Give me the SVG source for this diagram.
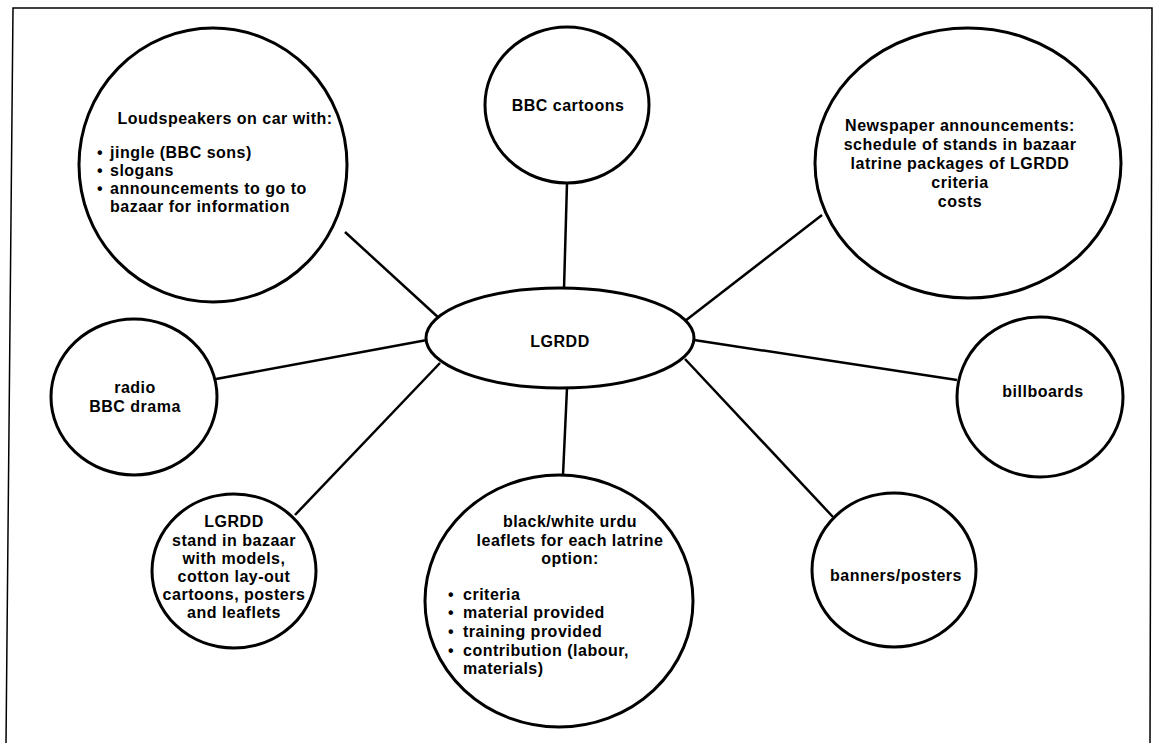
<svg xmlns="http://www.w3.org/2000/svg" width="1161" height="743" viewBox="0 0 1161 743">
<style>
  .node { fill: #fff; stroke: #000; stroke-width: 3; }
  .conn line { stroke: #000; stroke-width: 2.5; }
  text { font-family: "Liberation Sans", Arial, sans-serif; font-size: 16px; font-weight: bold; letter-spacing: 0.5px; fill: #000; }
  .c { text-anchor: middle; }
  .frame { fill: none; stroke: #000; stroke-width: 1.5; }
</style>
<rect width="1161" height="743" fill="#fff"/>
<path class="frame" d="M 6 743 L 13 8 L 1152 8 L 1150 743"/>
<g id="connectors" class="conn">
  <line x1="345" y1="232" x2="440" y2="319"/>
  <line x1="567" y1="183" x2="564" y2="289"/>
  <line x1="822" y1="215" x2="685" y2="321"/>
  <line x1="216" y1="379" x2="427" y2="340"/>
  <line x1="957" y1="380" x2="694" y2="340"/>
  <line x1="295" y1="515" x2="440" y2="363"/>
  <line x1="563" y1="475" x2="567" y2="388"/>
  <line x1="833" y1="517" x2="685" y2="359"/>
</g>
<g id="loudspeakers">
  <ellipse class="node" cx="213" cy="165" rx="134" ry="137"/>
  <text x="225" y="124" class="c">Loudspeakers on car with:</text>
  <text x="97" y="158">•</text><text x="110" y="158">jingle (BBC sons)</text>
  <text x="97" y="176">•</text><text x="110" y="176">slogans</text>
  <text x="97" y="194">•</text><text x="110" y="194">announcements to go to</text>
  <text x="110" y="212">bazaar for information</text>
</g>
<g id="bbc-cartoons">
  <ellipse class="node" cx="567" cy="105" rx="82" ry="78"/>
  <text x="568" y="111" class="c">BBC cartoons</text>
</g>
<g id="newspaper">
  <ellipse class="node" cx="968" cy="163" rx="153" ry="135"/>
  <text x="960" y="131" class="c">Newspaper announcements:</text>
  <text x="960" y="150" class="c">schedule of stands in bazaar</text>
  <text x="960" y="169" class="c">latrine packages of LGRDD</text>
  <text x="960" y="188" class="c">criteria</text>
  <text x="960" y="207" class="c">costs</text>
</g>
<g id="lgrdd">
  <ellipse class="node" cx="560" cy="338" rx="134" ry="50"/>
  <text x="560" y="347" class="c">LGRDD</text>
</g>
<g id="radio">
  <ellipse class="node" cx="134" cy="397" rx="83" ry="78"/>
  <text x="135" y="393" class="c">radio</text>
  <text x="135" y="412" class="c">BBC drama</text>
</g>
<g id="billboards">
  <ellipse class="node" cx="1040" cy="397" rx="83" ry="80"/>
  <text x="1043" y="397" class="c">billboards</text>
</g>
<g id="stand">
  <ellipse class="node" cx="234" cy="571" rx="82" ry="77"/>
  <text x="234" y="527" class="c">LGRDD</text>
  <text x="234" y="546" class="c">stand in bazaar</text>
  <text x="234" y="564" class="c">with models,</text>
  <text x="234" y="582" class="c">cotton lay-out</text>
  <text x="234" y="600" class="c">cartoons, posters</text>
  <text x="234" y="618" class="c">and leaflets</text>
</g>
<g id="leaflets">
  <ellipse class="node" cx="559" cy="601" rx="134" ry="126"/>
  <text x="570" y="527" class="c">black/white urdu</text>
  <text x="570" y="546" class="c">leaflets for each latrine</text>
  <text x="570" y="564" class="c">option:</text>
  <text x="448" y="600">•</text><text x="463" y="600">criteria</text>
  <text x="448" y="618">•</text><text x="463" y="618">material provided</text>
  <text x="448" y="637">•</text><text x="463" y="637">training provided</text>
  <text x="448" y="656">•</text><text x="463" y="656">contribution (labour,</text>
  <text x="463" y="674">materials)</text>
</g>
<g id="banners">
  <ellipse class="node" cx="894" cy="570" rx="82" ry="77"/>
  <text x="896" y="581" class="c">banners/posters</text>
</g>
</svg>
